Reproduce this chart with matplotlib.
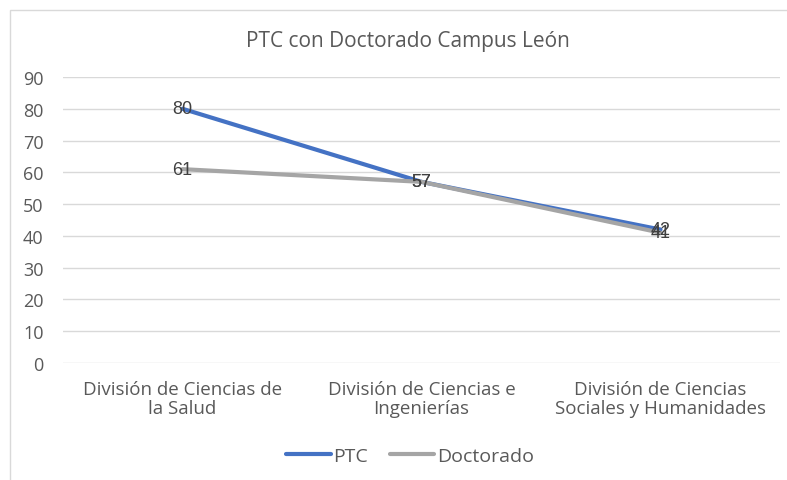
import matplotlib
matplotlib.use("Agg")
import matplotlib.pyplot as plt
from matplotlib.patches import Rectangle

categories = ["División de Ciencias de\nla Salud", "División de Ciencias e\nIngenierías",
              "División de Ciencias\nSociales y Humanidades"]
ptc = [80, 57, 42]
doctorado = [61, 57, 41]
yticks = list(range(0, 100, 10))

txt = "#595959"
font = ["Open Sans", "DejaVu Sans"]
fig = plt.figure(figsize=(7.87, 4.81), dpi=100)
ax = fig.add_axes([63/787, 1-364/481, (780-63)/787, (364-78)/481])

x = list(range(len(categories)))
ax.plot(x, ptc, color="#4472C4", lw=3.0, solid_capstyle="round", label="PTC", zorder=3)
ax.plot(x, doctorado, color="#A5A5A5", lw=3.0, solid_capstyle="round", label="Doctorado", zorder=3)
for xi, v in zip(x, ptc):
    ax.text(xi, v, str(v), ha="center", va="center", fontsize=13, color="#404040",
            family=["Liberation Sans", "DejaVu Sans"], zorder=4)
for xi, v in zip(x, doctorado):
    ax.text(xi, v, str(v), ha="center", va="center", fontsize=13, color="#404040",
            family=["Liberation Sans", "DejaVu Sans"], zorder=4)

ax.set_xlim(-0.5, 2.5)
ax.set_ylim(0, 90)
ax.set_yticks(yticks)
ax.set_xticks(x)
ax.set_xticklabels(categories, fontsize=13.5, color=txt, family=font, linespacing=1.12)
ax.set_yticklabels([str(v) for v in yticks], fontsize=13, color=txt, family=font)
ax.tick_params(axis="both", length=0)
ax.tick_params(axis="y", pad=14)
ax.tick_params(axis="x", pad=12)
ax.grid(axis="y", color="#D9D9D9", lw=1)
ax.set_axisbelow(True)
for s in ax.spines.values():
    s.set_visible(False)

fig.text(408/787, 1-42/481, "PTC con Doctorado Campus León", ha="center", va="center",
         fontsize=15, color=txt, family=font)

leg = fig.legend(loc="center", bbox_to_anchor=(410/787, 1-457/481), ncol=2, frameon=False,
                 prop={"family": "Open Sans", "size": 14}, handlelength=2.3, handletextpad=0.15,
                 columnspacing=1.1)
for t in leg.get_texts():
    t.set_color(txt)

fig.patches.append(Rectangle((10/787, -0.1), 1.2, 1-11/481+0.1, transform=fig.transFigure,
                             fill=False, edgecolor="#D9D9D9", lw=1))

fig.savefig("out.png", dpi=100)
